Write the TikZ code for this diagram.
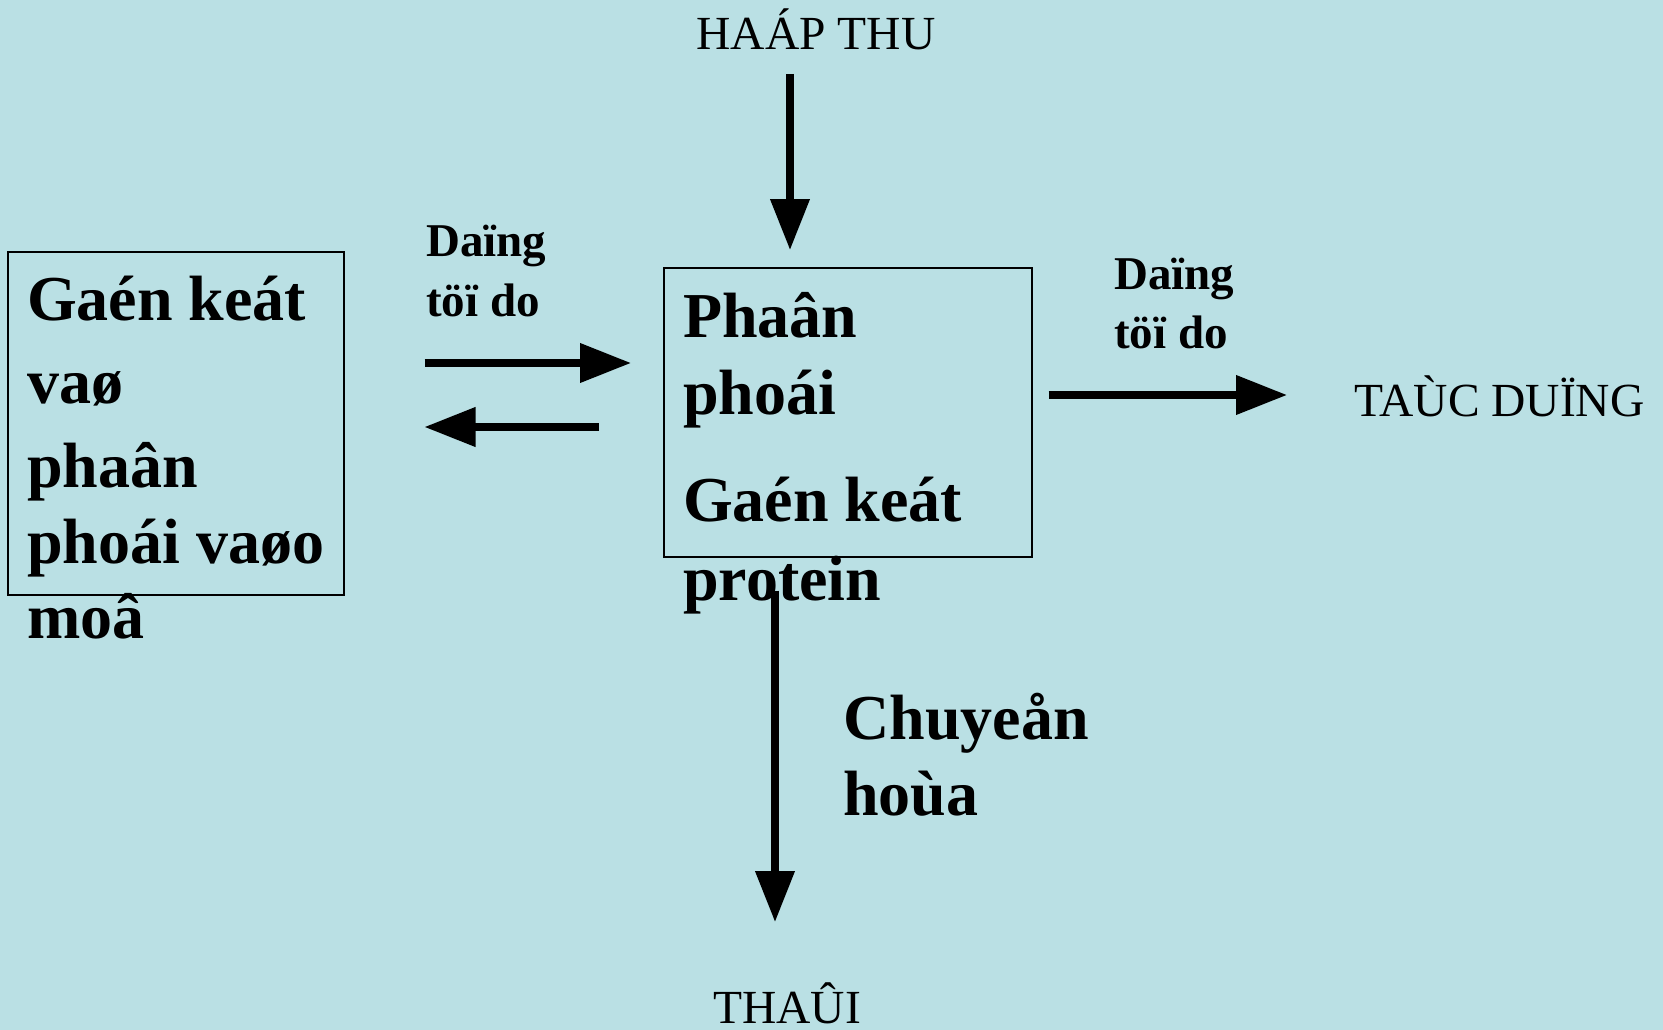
\documentclass[tikz,border=0pt]{standalone}
\usepackage{fontspec}
\setmainfont{Liberation Serif}
\usetikzlibrary{arrows.meta}
\definecolor{bgcyan}{RGB}{186,224,228}
\begin{document}
\begin{tikzpicture}[x=1pt,y=-1pt,
  bigtxt/.style={anchor=base west, inner sep=0pt, font=\bfseries\fontsize{64}{77}\selectfont},
  smalltxt/.style={anchor=base west, inner sep=0pt, font=\bfseries\fontsize{47}{59}\selectfont},
  captxt/.style={anchor=base, inner sep=0pt, font=\fontsize{47.5}{56}\selectfont},
  framebox/.style={draw, line width=1.5pt, inner sep=0pt, anchor=north west},
  arr/.style={line width=7.3pt, -{Triangle[length=51pt,width=38pt]}}]
% background and page size
\fill[bgcyan] (0,0) rectangle (1663,1030);
\useasboundingbox (0,0) rectangle (1663,1030);

% frames
\node[framebox, minimum width=336pt, minimum height=343pt] (bound) at (7,251) {};
\node[framebox, minimum width=368pt, minimum height=289pt] (pp) at (663,267) {};

% left block text
\node[bigtxt] (b1) at (27,320) {Gaén keát};
\node[bigtxt] (b2) at (27,403) {vaø};
\node[bigtxt] (b3) at (27,487) {phaân};
\node[bigtxt] (b4) at (27,563) {phoái vaøo};
\node[bigtxt] (b5) at (27,638) {moâ};

% centre block text
\node[bigtxt] (c1) at (683,337) {Phaân};
\node[bigtxt] (c2) at (683,414) {phoái};
\node[bigtxt] (c3) at (683,521) {Gaén keát};
\node[bigtxt] (c4) at (683,600) {protein};

% arrow labels
\node[smalltxt] (l1) at (426,256) {Daïng};
\node[smalltxt] (l2) at (426,316) {töï do};
\node[smalltxt] (r1) at (1114,289) {Daïng};
\node[smalltxt] (r2) at (1114,348) {töï do};
\node[bigtxt] (ch1) at (843,739) {Chuyeån};
\node[bigtxt] (ch2) at (843,815) {hoùa};

% outer labels
\node[captxt] (hap) at (816,50) {HAÁP THU};
\node[captxt, anchor=base west] (tac) at (1354,416) {TAÙC DUÏNG};
\node[captxt] (thai) at (787,1023) {THAÛI};

% helper levels
\coordinate (hIn) at (790,74);
\coordinate (yA) at (0,363);
\coordinate (yB) at (0,427);
\coordinate (yC) at (0,395);
\coordinate (xD) at (775,0);
\coordinate (dEnd) at (775,922);

% connectors
\draw[arr, shorten >=17pt] (hIn) -- (hIn |- pp.north);
\draw[arr, shorten <=80pt, shorten >=32pt] (bound.east |- yA) -- (pp.west |- yA);
\draw[arr, shorten <=64pt, shorten >=80pt] (pp.west |- yB) -- (bound.east |- yB);
\draw[arr, shorten <=16pt, shorten >=67pt] (pp.east |- yC) -- (tac.west |- yC);
\draw[arr, shorten <=33pt] (pp.south -| xD) -- (dEnd);
\end{tikzpicture}
\end{document}
